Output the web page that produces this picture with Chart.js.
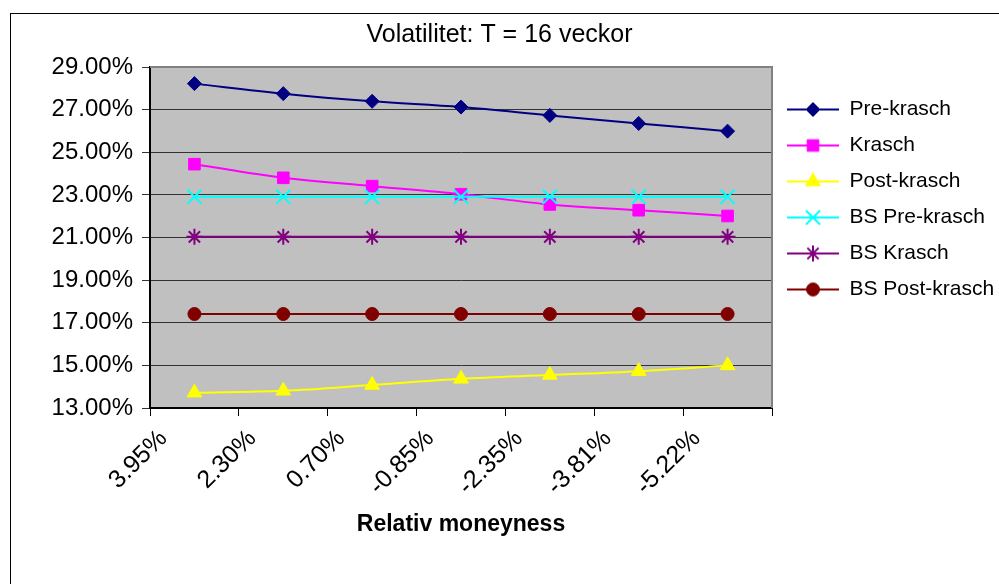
<!DOCTYPE html>
<html><head><meta charset="utf-8">
<script src="https://cdn.jsdelivr.net/npm/chart.js@4.4.0/dist/chart.umd.min.js"></script>
<style>html,body{margin:0;padding:0;background:#fff;overflow:hidden}canvas{display:block}</style>
</head><body>
<canvas id="c" width="999" height="584"></canvas>
<script>
// ---- data ----
const categories = ['3.95%', '2.30%', '0.70%', '-0.85%', '-2.35%', '-3.81%', '-5.22%'];
const seriesNames = ['Pre-krasch', 'Krasch', 'Post-krasch', 'BS Pre-krasch', 'BS Krasch', 'BS Post-krasch'];
const preKrasch    = [28.22, 27.75, 27.39, 27.12, 26.73, 26.35, 25.99];
const krasch       = [24.44, 23.80, 23.41, 23.03, 22.55, 22.28, 22.01];
const postKrasch   = [13.72, 13.81, 14.08, 14.37, 14.55, 14.73, 15.00];
const bsPreKrasch  = [22.91, 22.91, 22.91, 22.91, 22.91, 22.91, 22.91];
const bsKrasch     = [21.03, 21.03, 21.03, 21.03, 21.03, 21.03, 21.03];
const bsPostKrasch = [17.41, 17.41, 17.41, 17.41, 17.41, 17.41, 17.41];
const yMin = 13, yMax = 29, yStep = 2;
const titleText = 'Volatilitet: T = 16 veckor';
const xTitleText = 'Relativ moneyness';

// ---- styles ----
const FONT = "'Liberation Sans', Arial, sans-serif";
const seriesValues = [preKrasch, krasch, postKrasch, bsPreKrasch, bsKrasch, bsPostKrasch];
const styles = [
  {color: '#000080', point: 'rectRot', r: 7, bw: 1},
  {color: '#FF00FF', point: 'rect', r: 8.2, bw: 1},
  {color: '#FFFF00', point: 'triangle', r: 8.5, bw: 1},
  {color: '#00FFFF', point: 'crossRot', r: 10, bw: 2},
  {color: '#800080', point: 'star', r: 8, bw: 2},
  {color: '#800000', point: 'circle', r: 6.5, bw: 1}
];

const datasets = seriesNames.map((name, i) => ({
  label: name,
  data: seriesValues[i],
  borderColor: styles[i].color,
  backgroundColor: styles[i].color,
  pointBackgroundColor: styles[i].color,
  pointBorderColor: styles[i].color,
  pointStyle: styles[i].point,
  pointRadius: styles[i].r,
  pointHoverRadius: styles[i].r,
  pointBorderWidth: styles[i].bw,
  borderWidth: 2,
  tension: 0.35,
  fill: false,
  order: seriesNames.length - i
}));

// legend symbol: line + marker
const LEG_W = 52, LEG_H = 22;
function legendSymbol(i) {
  const cv = document.createElement('canvas');
  cv.width = LEG_W; cv.height = LEG_H;
  const g = cv.getContext('2d');
  g.strokeStyle = styles[i].color; g.fillStyle = styles[i].color;
  g.lineWidth = 2;
  g.beginPath(); g.moveTo(0, LEG_H / 2); g.lineTo(LEG_W, LEG_H / 2); g.stroke();
  g.lineWidth = styles[i].bw;
  Chart.helpers.drawPoint(g, {pointStyle: styles[i].point, radius: styles[i].r, rotation: 0, borderWidth: styles[i].bw}, LEG_W / 2, LEG_H / 2);
  return cv;
}

const framePlugin = {
  id: 'frame',
  beforeDraw(chart) {
    const {ctx, chartArea: a} = chart;
    ctx.save();
    ctx.strokeStyle = '#000'; ctx.lineWidth = 1;
    ctx.strokeRect(10.5, 13.5, 1200, 800);
    ctx.fillStyle = '#C0C0C0';
    ctx.fillRect(a.left, a.top, a.right - a.left, a.bottom - a.top);
    ctx.restore();
  },
  beforeDatasetsDraw(chart) {
    const {ctx, chartArea: a} = chart;
    ctx.save();
    ctx.strokeStyle = '#808080'; ctx.lineWidth = 2;
    ctx.beginPath();
    ctx.moveTo(a.left, a.top); ctx.lineTo(a.right, a.top); ctx.lineTo(a.right, a.bottom);
    ctx.stroke();
    ctx.restore();
  }
};

new Chart(document.getElementById('c'), {
  type: 'line',
  data: {labels: categories, datasets},
  plugins: [framePlugin],
  options: {
    responsive: false,
    animation: false,
    devicePixelRatio: 1,
    layout: {padding: 0},
    plugins: {
      tooltip: {enabled: false},
      title: {
        display: true, text: titleText, color: '#000',
        font: {family: FONT, size: 25, weight: 'normal'},
        padding: {top: 20, bottom: 17}
      },
      legend: {
        position: 'right', align: 'start', maxWidth: 227,
        title: {display: true, text: '', font: {size: 12}, padding: {top: 69.6, bottom: 0}},
        labels: {
          usePointStyle: true, pointStyleWidth: LEG_W, padding: 15,
          color: '#000', font: {family: FONT, size: 21},
          generateLabels: (chart) => seriesNames.map((n, i) => ({
            text: n, fillStyle: styles[i].color, strokeStyle: styles[i].color,
            lineWidth: 0, pointStyle: legendSymbol(i), datasetIndex: i, hidden: false, fontColor: '#000'
          }))
        }
      }
    },
    scales: {
      x: {
        type: 'category', offset: true,
        grid: {display: true, drawOnChartArea: false, drawTicks: true, tickLength: 8, offset: true, color: '#000', lineWidth: 1},
        border: {display: true, color: '#000', width: 2},
        ticks: {
          autoSkip: false, minRotation: 45, maxRotation: 45, color: '#000',
          font: {family: FONT, size: 25}, padding: 8, labelOffset: -31
        },
        title: {display: true, text: xTitleText, color: '#000', font: {family: FONT, size: 23, weight: 'bold'}, padding: {top: 0, bottom: 46}},
        afterFit(s) { s.height = 176; }
      },
      y: {
        min: yMin, max: yMax,
        grid: {color: '#333', lineWidth: 1, drawTicks: true, tickLength: 8},
        border: {display: true, color: '#000', width: 2},
        ticks: {
          stepSize: yStep, color: '#000', padding: 9,
          font: {family: FONT, size: 24},
          callback: (v) => Number(v).toFixed(2) + '%'
        },
        afterFit(s) { s.width = 150; }
      }
    }
  }
});
</script>
</body></html>
